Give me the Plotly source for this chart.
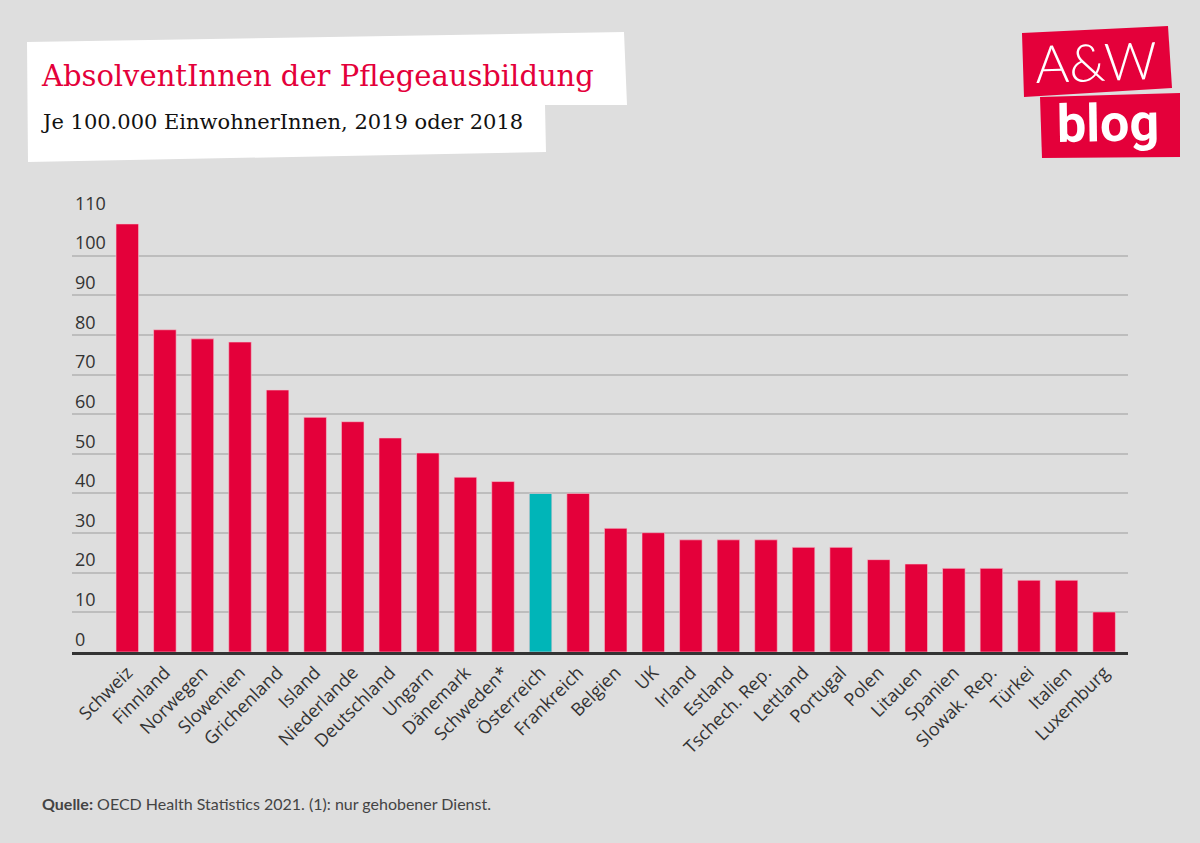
import plotly.graph_objects as go

# ---- data ----
countries = ["Schweiz", "Finnland", "Norwegen", "Slowenien", "Grichenland", "Island",
             "Niederlande", "Deutschland", "Ungarn", "Dänemark", "Schweden*", "Österreich",
             "Frankreich", "Belgien", "UK", "Irland", "Estland", "Tschech. Rep.", "Lettland",
             "Portugal", "Polen", "Litauen", "Spanien", "Slowak. Rep.", "Türkei", "Italien",
             "Luxemburg"]
values = [108.0, 81.3, 79.0, 78.2, 66.1, 59.2, 58.1, 54.0, 50.2, 44.1, 43.0, 40.0,
          40.0, 31.2, 30.1, 28.3, 28.3, 28.3, 26.4, 26.4, 23.3, 22.2, 21.1, 21.1, 18.1,
          18.1, 10.1]
highlight = "Österreich"
y_ticks = [0, 10, 20, 30, 40, 50, 60, 70, 80, 90, 100, 110]

title = "AbsolventInnen der Pflegeausbildung"
subtitle = "Je 100.000 EinwohnerInnen, 2019 oder 2018"
source = "<b>Quelle:</b> OECD Health Statistics 2021. (1): nur gehobener Dienst."

RED = "#E4003A"
TEAL = "#00B5B8"
BG = "#DEDEDE"

W, H = 1200, 843
L, R, T, B = 72, 72, 216, 191
PW, PH = W - L - R, H - T - B


def px(x):
    return (x - L) / PW


def py(y):
    return (H - B - y) / PH


def path(points):
    s = "M " + " L ".join(f"{px(a):.5f},{py(b):.5f}" for a, b in points) + " Z"
    return s


colors = [TEAL if c == highlight else RED for c in countries]

fig = go.Figure(go.Bar(
    x=countries, y=values, marker=dict(color=colors, line=dict(width=0.6, color="#F2C9D3")),
    hoverinfo="x+y",
))

shapes = [
    # title white box
    dict(type="path", xref="paper", yref="paper", layer="below",
         path=path([(27, 42), (624, 32), (627, 105), (545, 105), (546, 152), (28, 162)]),
         fillcolor="white", line=dict(width=0)),
    # logo boxes
    dict(type="path", xref="paper", yref="paper",
         path=path([(1022, 33), (1168, 26), (1172, 88), (1024, 97)]),
         fillcolor=RED, line=dict(width=0)),
    dict(type="path", xref="paper", yref="paper",
         path=path([(1040, 97), (1180, 93), (1180, 157), (1042, 158)]),
         fillcolor=RED, line=dict(width=0)),
]

annotations = [
    dict(text=title, xref="paper", yref="paper", x=px(39), y=py(76), xanchor="left",
         yanchor="middle", showarrow=False,
         font=dict(family="DejaVu Serif", size=29, color=RED)),
    dict(text=subtitle, xref="paper", yref="paper", x=px(39), y=py(122), xanchor="left",
         yanchor="middle", showarrow=False,
         font=dict(family="DejaVu Serif", size=21, color="#111111")),
    dict(text="A&W", xref="paper", yref="paper", x=px(1096), y=py(61), xanchor="center",
         yanchor="middle", showarrow=False, textangle=-2,
         font=dict(family="Lato", size=52, color="white", weight=300)),
    dict(text="<b>blog</b>", xref="paper", yref="paper", x=px(1108), y=py(124), xanchor="center",
         yanchor="middle", showarrow=False, textangle=-1,
         font=dict(family="Roboto", size=52, color="white")),
    dict(text=source, xref="paper", yref="paper", x=px(40), y=py(803), xanchor="left",
         yanchor="middle", showarrow=False,
         font=dict(family="Lato", size=16, color="#444444")),
]

fig.update_layout(
    width=W, height=H,
    margin=dict(l=L, r=R, t=T, b=B, autoexpand=False),
    paper_bgcolor=BG, plot_bgcolor=BG,
    showlegend=False,
    bargap=0.4,
    shapes=shapes,
    annotations=annotations,
    font=dict(family="Open Sans", color="#333333"),
)
fig.update_xaxes(
    range=[-1.472, 26.636], tickangle=-45, showgrid=False,
    showline=True, linecolor="#333333", linewidth=3, ticks="",
    tickfont=dict(family="Open Sans", size=18, color="#333333"),
    fixedrange=True,
)
fig.update_yaxes(
    range=[0, 110], tickvals=y_ticks, showgrid=True, gridcolor="#BDBDBD", gridwidth=2,
    zeroline=False, ticklabelposition="inside top", ticklabeloverflow="allow",
    tickfont=dict(family="Open Sans", size=18, color="#333333"),
    fixedrange=True,
)

fig.write_html(
    "out.html",
    config={"displayModeBar": False},
    post_script="document.body.style.margin='0px';document.body.style.background='#DEDEDE';",
)
